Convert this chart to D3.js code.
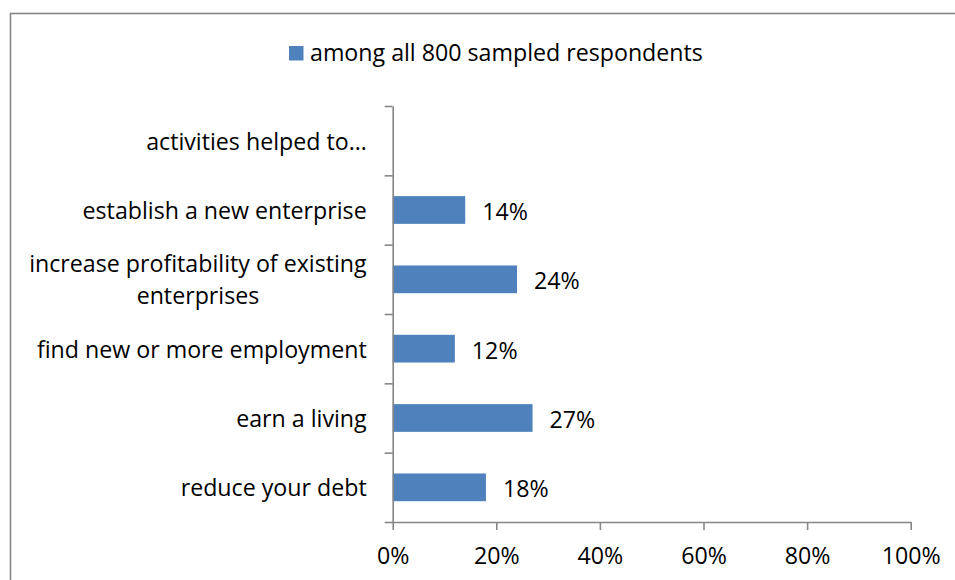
<!DOCTYPE html>
<html>
<head>
<meta charset="utf-8">
<script src="https://cdn.jsdelivr.net/npm/d3@7"></script>
<style>
  html, body { margin: 0; padding: 0; background: #fff; }
  svg { display: block; }
  text { font-family: "Open Sans", "Noto Sans", sans-serif; fill: #000; }
</style>
</head>
<body>
<svg id="chart" width="955" height="580"></svg>
<script>
// Categories from top to bottom; the first is a heading row with no bar.
const categories = [
  "activities helped to…",
  "establish a new enterprise",
  "increase profitability of existing\nenterprises",
  "find new or more employment",
  "earn a living",
  "reduce your debt"
];
const values = [null, 0.14, 0.24, 0.12, 0.27, 0.18];
const seriesName = "among all 800 sampled respondents";
const xTicks = [0, 0.2, 0.4, 0.6, 0.8, 1.0];

const svg = d3.select("#chart");
const axisColor = "#868686";
const barColor = "#4F81BD";
const fontSize = 23.2;

const plot = { left: 392.7, right: 910.7, top: 106, bottom: 522 };

// Outer chart frame (runs past the right and bottom edges)
svg.append("rect")
  .attr("x", 10.5).attr("y", 13.5)
  .attr("width", 1200).attr("height", 800)
  .attr("fill", "#fff")
  .attr("stroke", axisColor).attr("stroke-width", 1.6);

const x = d3.scaleLinear().domain([0, 1]).range([plot.left, plot.right]);
const y = d3.scaleBand().domain(categories)
  .range([plot.top, plot.bottom])
  .paddingInner(0.6).paddingOuter(0.3);

// Legend
const legend = svg.append("g");
legend.append("rect")
  .attr("x", 289).attr("y", 46).attr("width", 14.5).attr("height", 14.5)
  .attr("fill", barColor);
legend.append("text")
  .attr("x", 310).attr("y", 61)
  .style("font-size", fontSize + "px")
  .text(seriesName);

// Bars
svg.append("g").selectAll("rect")
  .data(categories.map((c, i) => ({ c, v: values[i] })).filter(d => d.v != null))
  .join("rect")
  .attr("x", x(0))
  .attr("y", d => y(d.c))
  .attr("width", d => x(d.v) - x(0))
  .attr("height", y.bandwidth())
  .attr("fill", barColor);

// Value labels
svg.append("g").selectAll("text")
  .data(categories.map((c, i) => ({ c, v: values[i] })).filter(d => d.v != null))
  .join("text")
  .attr("x", d => x(d.v) + 17)
  .attr("y", d => y(d.c) + y.bandwidth() / 2 + 1)
  .attr("dominant-baseline", "central")
  .style("font-size", fontSize + "px")
  .text(d => d3.format(".0%")(d.v));

// Category axis: ticks fall on the boundaries between categories
const boundary = d3.scaleLinear().domain([0, categories.length]).range([plot.bottom, plot.top]);
const yAxis = svg.append("g")
  .attr("transform", `translate(${plot.left},0)`)
  .call(d3.axisLeft(boundary)
    .tickValues(d3.range(categories.length + 1))
    .tickFormat("")
    .tickSizeInner(8).tickSizeOuter(0));
yAxis.selectAll("path, line").attr("stroke", axisColor).attr("stroke-width", 1.6);

// Category labels (multi-line labels centred as a block, right edge at labelX)
const labelX = plot.left - 26;
const lineGap = 31.7;
const labels = svg.append("g").style("font-size", fontSize + "px");
categories.forEach(c => {
  const lines = c.split("\n");
  const cy = y(c) + y.bandwidth() / 2;
  const t = labels.append("text").attr("dominant-baseline", "central");
  lines.forEach((ln, i) => {
    t.append("tspan")
      .attr("y", cy + (i - (lines.length - 1) / 2) * lineGap)
      .text(ln);
  });
  if (lines.length === 1) {
    t.attr("text-anchor", "end").selectAll("tspan").attr("x", labelX);
  } else {
    const w = d3.max(t.selectAll("tspan").nodes(), n => n.getComputedTextLength());
    t.attr("text-anchor", "middle").selectAll("tspan").attr("x", labelX - w / 2);
  }
});

// Value axis
const xAxis = svg.append("g")
  .attr("transform", `translate(0,${plot.bottom})`)
  .call(d3.axisBottom(x)
    .tickValues(xTicks)
    .tickFormat(d3.format(".0%"))
    .tickSizeInner(8).tickSizeOuter(0).tickPadding(18));
xAxis.selectAll("path, line").attr("stroke", axisColor).attr("stroke-width", 1.6);
xAxis.selectAll("text")
  .attr("font-family", null)
  .attr("font-size", null)
  .style("font-size", fontSize + "px")
  .attr("fill", "#000");
</script>
</body>
</html>
